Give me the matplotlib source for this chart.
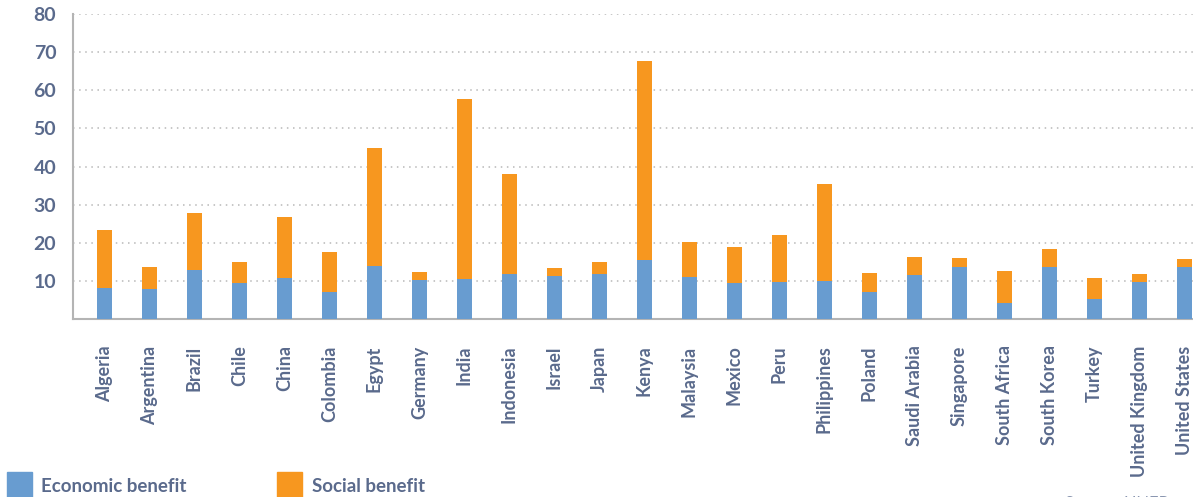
import numpy as np
import matplotlib
matplotlib.use("Agg")
import matplotlib.pyplot as plt
from matplotlib.patches import Rectangle

# data
countries = ["Algeria", "Argentina", "Brazil", "Chile", "China", "Colombia",
             "Egypt", "Germany", "India", "Indonesia", "Israel", "Japan",
             "Kenya", "Malaysia", "Mexico", "Peru", "Philippines", "Poland",
             "Saudi Arabia", "Singapore", "South Africa", "South Korea",
             "Turkey", "United Kingdom", "United States"]
economic = [8.2, 7.9, 12.9, 9.4, 10.8, 7.1, 14.0, 10.3, 10.5, 11.8, 11.3,
            11.8, 15.6, 11.0, 9.4, 9.7, 10.0, 7.1, 11.5, 13.6, 4.2, 13.6,
            5.2, 9.7, 13.6]
total = [23.3, 13.6, 27.8, 15.0, 26.8, 17.6, 44.9, 12.3, 57.7, 38.0, 13.4,
         15.0, 67.7, 20.2, 18.9, 22.0, 35.4, 12.1, 16.3, 16.0, 12.6, 18.4,
         10.8, 11.8, 15.7]
social = [t - e for t, e in zip(total, economic)]
yticks = [10, 20, 30, 40, 50, 60, 70, 80]
legend_labels = ["Economic benefit", "Social benefit"]

blue = "#689cd0"
orange = "#f7971f"
txt = "#5a6a8c"
grey = "#b4b4b4"

plt.rcParams['font.family'] = ['Lato', 'DejaVu Sans']

W, H = 1193, 497
fig = plt.figure(figsize=(W / 100, H / 100), dpi=100)
ax = fig.add_axes([73 / W, (H - 319) / H, (W - 73) / W, (319 - 14) / H])

x = np.arange(len(countries))
ax.bar(x, economic, width=0.333, color=blue, zorder=3)
ax.bar(x, social, width=0.333, bottom=economic, color=orange, zorder=3)

ax.set_xlim(-0.7, 24.19)
ax.set_ylim(0, 80)
ax.set_yticks(yticks)
ax.set_xticks(x)
ax.set_xticklabels(countries, rotation=90, va="top", ha="center")
ax.tick_params(axis="y", length=0, pad=12, labelsize=14, labelcolor=txt)
ax.tick_params(axis="x", length=0, pad=19, labelsize=13, labelcolor=txt)
for lab in ax.get_xticklabels() + ax.get_yticklabels():
    lab.set_fontweight("bold")

ax.grid(axis="y", linestyle=(0, (1, 3)), color="#b8b8b8", linewidth=1.1, zorder=0)
for s in ["top", "right"]:
    ax.spines[s].set_visible(False)
for s in ["left", "bottom"]:
    ax.spines[s].set_color(grey)
    ax.spines[s].set_linewidth(1.5)

# legend drawn in figure pixels, like the reference
for (sx, tx), col, lab in zip([(7, 41), (277, 312)], [blue, orange], legend_labels):
    fig.patches.append(Rectangle((sx / W, 0), 25 / W, 25 / H, color=col,
                                 transform=fig.transFigure, figure=fig))
    fig.text(tx / W, (H - 486) / H, lab, color=txt, fontsize=13.5,
             fontweight="bold", ha="left", va="center")

fig.text(1065 / W, -0.014, "Source: UNEP", color="#8a96b0", fontsize=12,
         ha="left", va="center")

fig.savefig("out.png", dpi=100)
